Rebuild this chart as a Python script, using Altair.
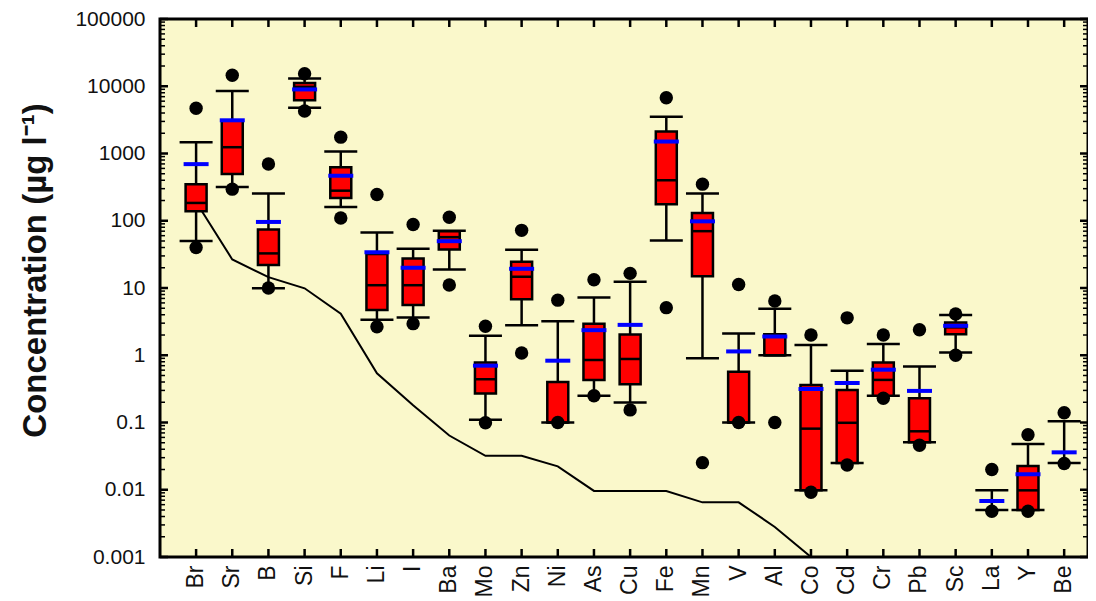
import altair as alt
import pandas as pd

elements = ["Br","Sr","B","Si","F","Li","I","Ba","Mo","Zn","Ni","As","Cu","Fe","Mn","V","Al","Co","Cd","Cr","Pb","Sc","La","Y","Be"]

out_hi = [4700, 14600, 700, 15300, 1750, 245, 88, 113, 2.7, 72, 6.6, 13.3, 16.5, 6750, 350, 11.3, 6.4, 2.0, 3.6, 2.0, 2.4, 4.1, 0.020, 0.066, 0.14]
cap_hi = [1470, 8500, 255, 13000, 1070, 67, 38.5, 71, 1.95, 37, 3.2, 7.2, 12.4, 3530, 255, 2.1, 4.9, 1.42, 0.59, 1.47, 0.68, 3.97, 0.0098, 0.048, 0.104]
q3 = [350, 3100, 74, 11200, 627, 32, 27.5, 70, 0.78, 24.5, 0.40, 2.93, 2.03, 2120, 130, 0.57, 2.05, 0.36, 0.305, 0.78, 0.229, 3.06, None, 0.0226, None]
median = [184, 1240, 32.7, 9800, 280, 11, 11, 57, 0.44, 14.7, 0.10, 0.85, 0.88, 400, 70, 0.10, 1.0, 0.081, 0.099, 0.43, 0.074, 2.6, None, 0.0098, None]
q1 = [138, 494, 21.9, 6170, 218, 4.7, 5.6, 37.4, 0.27, 6.8, 0.10, 0.43, 0.37, 176, 15, 0.10, 1.0, 0.0098, 0.025, 0.25, 0.051, 2.05, None, 0.005, None]
cap_lo = [50, 318, 9.9, 4800, 160, 3.36, 3.65, 18.9, 0.11, 2.8, 0.10, 0.25, 0.198, 51, 0.90, 0.10, 1.0, 0.0098, 0.025, 0.25, 0.051, 1.1, 0.005, 0.005, 0.025]
out_lo = [40, 295, 10, 4290, 110, 2.65, 2.95, 11.1, 0.099, 1.08, 0.10, 0.25, 0.154, 5.1, 0.0253, 0.10, 0.10, 0.0092, 0.0234, 0.23, 0.046, 1.0, 0.0048, 0.0048, 0.0245]
mean = [695, 3117, 96, 8970, 467, 34, 20, 49.7, 0.70, 19.3, 0.83, 2.36, 2.83, 1506, 98, 1.14, 1.9, 0.315, 0.387, 0.61, 0.295, 2.74, 0.0068, 0.017, 0.036]
ref_line = [190, 26.6, 14.5, 9.9, 4.16, 0.54, 0.18, 0.064, 0.032, 0.032, 0.0223, 0.0096, 0.0096, 0.0096, 0.0065, 0.0065, 0.0028, 0.001, None, None, None, None, None, None, None]

major_ticks = [0.001, 0.01, 0.1, 1, 10, 100, 1000, 10000, 100000]
minor_ticks = [m * d for d in [0.001, 0.01, 0.1, 1, 10, 100, 1000, 10000] for m in range(2, 10)]

df = pd.DataFrame({
    "element": elements, "idx": list(range(len(elements))),
    "out_hi": out_hi, "cap_hi": cap_hi, "q3": q3, "median": median, "q1": q1,
    "cap_lo": cap_lo, "out_lo": out_lo, "mean": mean, "ref": ref_line,
})
df_major = pd.DataFrame({"v": major_ticks})
df_minor = pd.DataFrame({"v": minor_ticks})

FONT = "Liberation Sans"
W, H = 928, 538
MAJ, MIN = 8, 5

xscale = alt.Scale(paddingInner=0, paddingOuter=0.3285, align=0.758)
yscale = alt.Scale(type="log", domain=[0.001, 100000], nice=False)

ax_x = alt.Axis(orient="bottom", labelAngle=-90, labelFontSize=23, labelFont=FONT,
                labelColor="#111", labelPadding=8, ticks=False, domain=False, grid=False, title=None)
ax_y = alt.Axis(orient="left", values=major_ticks, format="~g", labelFontSize=21, labelFont=FONT,
                labelColor="#111", labelPadding=15, ticks=False, domain=False, grid=False,
                title="Concentration (µg l⁻¹)", titleFont=FONT, titleFontSize=33,
                titleFontWeight="bold", titleColor="#111", titlePadding=22, titleY=251)


def X():
    return alt.X("element:N", sort=elements, scale=xscale, axis=ax_x, title=None)


def Y(field):
    return alt.Y(f"{field}:Q", scale=yscale, axis=ax_y, title="Concentration (µg l⁻¹)")


base = alt.Chart(df)

line = base.mark_line(color="black", strokeWidth=2, clip=True).encode(
    x=X(), y=Y("ref"), order=alt.Order("idx:Q"))

whisker = base.mark_rule(color="black", strokeWidth=2.5).encode(
    x=X(), y=Y("cap_lo"), y2="cap_hi:Q")

cap_top = base.mark_tick(color="black", size=33, thickness=2.5, opacity=1).encode(
    x=X(), y=Y("cap_hi"))
cap_bot = base.mark_tick(color="black", size=33, thickness=2.5, opacity=1).encode(
    x=X(), y=Y("cap_lo"))

box = base.mark_bar(fill="#FF0000", stroke="black", strokeWidth=2.5, size=21).encode(
    x=X(), y=Y("q1"), y2="q3:Q")

med = base.mark_tick(color="black", size=21, thickness=2.5, opacity=1).encode(
    x=X(), y=Y("median"))

mn = base.mark_tick(color="#0000FF", size=25, thickness=4, opacity=1).encode(
    x=X(), y=Y("mean"))

dots_hi = base.mark_circle(color="black", size=180, opacity=1).encode(
    x=X(), y=Y("out_hi"))
dots_lo = base.mark_circle(color="black", size=180, opacity=1).encode(
    x=X(), y=Y("out_lo"))

# inward frame ticks
x_ticks_bottom = base.mark_rule(color="black", strokeWidth=2.5).encode(
    x=X(), y=alt.value(H), y2=alt.value(H - MAJ))
x_ticks_top = base.mark_rule(color="black", strokeWidth=2.5).encode(
    x=X(), y=alt.value(0), y2=alt.value(MAJ))

maj = alt.Chart(df_major)
mnr = alt.Chart(df_minor)
y_maj_left = maj.mark_rule(color="black", strokeWidth=2.5).encode(
    y=Y("v"), x=alt.value(0), x2=alt.value(MAJ))
y_maj_right = maj.mark_rule(color="black", strokeWidth=2.5).encode(
    y=Y("v"), x=alt.value(W), x2=alt.value(W - MAJ))
y_min_left = mnr.mark_rule(color="black", strokeWidth=1.5).encode(
    y=Y("v"), x=alt.value(0), x2=alt.value(MIN))
y_min_right = mnr.mark_rule(color="black", strokeWidth=1.5).encode(
    y=Y("v"), x=alt.value(W), x2=alt.value(W - MIN))

chart = alt.layer(
    line, whisker, cap_top, cap_bot, box, med, mn, dots_hi, dots_lo,
    x_ticks_bottom, x_ticks_top, y_maj_left, y_maj_right, y_min_left, y_min_right,
).properties(
    width=W, height=H,
    autosize=alt.AutoSizeParams(type="none"),
    padding={"left": 152, "top": 11, "right": 0, "bottom": 42},
    background="white",
).configure_view(
    fill="#FAF8CB", stroke="black", strokeWidth=3
)

chart.save("out.html", embed_options={"renderer": "svg", "actions": False})
